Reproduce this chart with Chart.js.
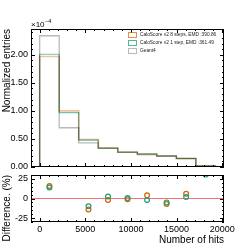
<!DOCTYPE html>
<html>
<head>
<meta charset="utf-8">
<script src="https://cdn.jsdelivr.net/npm/chart.js@4/dist/chart.umd.min.js"></script>
<style>
  html, body { margin: 0; padding: 0; background: #fff; }
  #wrap { position: relative; width: 249px; height: 249px; }
  canvas { position: absolute; left: 0; top: 0; }
</style>
</head>
<body>
<div id="wrap">
  <canvas id="grafico__diff" width="249" height="249"></canvas>
  <canvas id="grafico__hist" width="249" height="249"></canvas>
</div>
<script>
// bordes de los bins (numero de hits)
const binEdges = [0, 2140, 4280, 6420, 8560, 10700, 12840, 14980, 17120, 19260];

// entradas normalizadas (x 1e-4)
const geant4 = [2.34, 0.70, 0.43, 0.34, 0.265, 0.23, 0.19, 0.155, 0.025];
const calo8 = [1.97, 1.00, 0.49, 0.34, 0.265, 0.22, 0.20, 0.145, 0.012];
const calo1 = [2.01, 0.97, 0.48, 0.33, 0.263, 0.235, 0.20, 0.152, 0.0175];

// diferencia (%) por bin
const diff8 = [16, -43, -14, -2, -1, 4, -7, 6, 52];
const diff1 = [14, -39, -10, 2.5, 0.5, -2, -5, 2, 30.5];

// ticks de los ejes
const xTicks = [0, 5000, 10000, 15000, 20000];
const yTicksHist = [0, 0.5, 1.0, 1.5, 2.0];
const yTicksDiff = [-25, 0, 25];

const labels = [
  'CaloScore v2 8 steps, EMD :390.86',
  'CaloScore v2 1 step, EMD :361.49',
  'Geant4'
];

const X_MIN = -950, X_MAX = 20200;
const FONT = '"Liberation Sans", Arial, sans-serif';

const ORANGE = '#d95f02';
const GREEN = '#1b9e77';
const lineOrange = 'rgba(217,95,2,0.38)';
const lineGreen = 'rgba(27,158,119,0.62)';
const lineGrey = 'rgba(128,128,128,0.55)';

// arma los puntos del histograma tipo "step"
function stepPoints(vals){
  let pts = [{x: binEdges[0], y: 0}];
  for (let i = 0; i < vals.length; i++) {
    pts.push({x: binEdges[i], y: vals[i]});
  }
  pts.push({x: binEdges[binEdges.length - 1], y: 0});
  return pts;
}

function binCenters(vals){
  return vals.map((v, i) => ({x: (binEdges[i] + binEdges[i + 1]) / 2, y: v}));
}

// marco y ticks hacia adentro en los cuatro lados
const frameTicks = {
  id: 'frameTicks',
  afterDraw(chart, args, o) {
    const {ctx, chartArea: a, scales: {x, y}} = chart;
    ctx.save();
    ctx.strokeStyle = '#000';
    ctx.lineWidth = 1;
    ctx.beginPath();
    const tick = (px, horiz, len) => {
      if (horiz) {
        ctx.moveTo(px, a.bottom); ctx.lineTo(px, a.bottom - len);
        ctx.moveTo(px, a.top); ctx.lineTo(px, a.top + len);
      } else {
        ctx.moveTo(a.left, px); ctx.lineTo(a.left + len, px);
        ctx.moveTo(a.right, px); ctx.lineTo(a.right - len, px);
      }
    };
    for (let k = Math.ceil(x.min / o.xMinor); k * o.xMinor <= x.max; k++) {
      const v = k * o.xMinor;
      const major = Math.abs(v / o.xMajor - Math.round(v / o.xMajor)) < 1e-6;
      tick(Math.round(x.getPixelForValue(v)) + 0.5, true, major ? 4 : 2);
    }
    for (let k = Math.ceil(y.min / o.yMinor - 1e-6); k * o.yMinor <= y.max + 1e-9; k++) {
      const v = k * o.yMinor;
      const major = Math.abs(v / o.yMajor - Math.round(v / o.yMajor)) < 1e-6;
      tick(Math.round(y.getPixelForValue(v)) + 0.5, false, major ? 4 : 2);
    }
    ctx.stroke();
    ctx.strokeRect(Math.round(a.left) + 0.5, Math.round(a.top) + 0.5,
      Math.round(a.right - a.left) - 1, Math.round(a.bottom - a.top) - 1);
    ctx.restore();
  }
};

// mezcla de las lineas del histograma
const blend = {
  id: 'blend',
  beforeDatasetsDraw(chart) {
    chart.ctx.save();
    chart.ctx.globalCompositeOperation = 'multiply';
  },
  afterDatasetsDraw(chart) {
    chart.ctx.restore();
  }
};

// leyenda y multiplicador del eje
const extras = {
  id: 'extras',
  afterDraw(chart) {
    const ctx = chart.ctx;
    ctx.save();
    ctx.fillStyle = '#000';
    ctx.textBaseline = 'alphabetic';
    ctx.font = '8px ' + FONT;
    ctx.fillText('\u00d710', 31, 27);
    const w = ctx.measureText('\u00d710').width;
    ctx.font = '5.5px ' + FONT;
    ctx.fillText('\u22124', 31 + w + 0.5, 23);

    const strokeCols = ['rgba(217,95,2,0.7)', 'rgba(27,158,119,0.75)', 'rgba(128,128,128,0.55)'];
    ctx.font = '4.8px ' + FONT;
    ctx.textBaseline = 'middle';
    labels.forEach((t, i) => {
      const cy = 35 + i * 8;
      ctx.strokeStyle = strokeCols[i];
      ctx.lineWidth = 1;
      ctx.strokeRect(128.5, cy - 2.5, 8, 5);
      ctx.fillStyle = '#222';
      ctx.fillText(t, 140, cy);
    });
    ctx.restore();
  }
};

function setTicks(vals){
  return s => { s.ticks = vals.map(v => ({value: v})); };
}

function yAxis(min, max, vals, fmt, title){
  return {
    type: 'linear', min: min, max: max,
    afterBuildTicks: setTicks(vals),
    afterFit: s => { s.width = 31; },
    grid: {display: false, drawTicks: false},
    border: {display: false},
    ticks: {color: '#000', padding: 3, autoSkip: false,
      font: {family: FONT, size: 9}, callback: fmt},
    title: {display: true, text: title, align: 'end', color: '#000',
      font: {family: FONT, size: 10}, padding: {top: 1.5, bottom: 0}}
  };
}

Chart.defaults.animation = false;

const histChart = new Chart(document.querySelector('#grafico__hist'), {
  type: 'line',
  data: {
    datasets: [
      {label: labels[1], data: stepPoints(calo1), stepped: true, borderColor: lineGreen, borderWidth: 1.2, pointRadius: 0, fill: false},
      {label: labels[0], data: stepPoints(calo8), stepped: true, borderColor: lineOrange, borderWidth: 1.7, pointRadius: 0, fill: false},
      {label: labels[2], data: stepPoints(geant4), stepped: true, borderColor: lineGrey, borderWidth: 1.3, pointRadius: 0, fill: false}
    ]
  },
  options: {
    responsive: false,
    layout: {padding: {top: 29, right: 25, bottom: 82, left: 0}},
    plugins: {legend: {display: false}, tooltip: {enabled: false},
      frameTicks: {xMajor: 5000, xMinor: 1000, yMajor: 0.5, yMinor: 0.1}},
    scales: {
      x: {type: 'linear', min: X_MIN, max: X_MAX,
        afterFit: s => { s.height = 0; },
        grid: {display: false, drawTicks: false}, border: {display: false},
        ticks: {display: false}},
      y: yAxis(0, 2.46, yTicksHist, v => v.toFixed(2), 'Normalized entries')
    }
  },
  plugins: [blend, frameTicks, extras]
});

const diffChart = new Chart(document.querySelector('#grafico__diff'), {
  type: 'line',
  data: {
    datasets: [
      {data: binCenters(diff1), showLine: false, pointStyle: 'circle', pointRadius: 2.4,
        pointBorderWidth: 1.2, pointBorderColor: GREEN, pointBackgroundColor: 'rgba(0,0,0,0)'},
      {data: binCenters(diff8), showLine: false, pointStyle: 'circle', pointRadius: 2.4,
        pointBorderWidth: 1.2, pointBorderColor: ORANGE, pointBackgroundColor: 'rgba(0,0,0,0)'},
      {data: [{x: X_MIN, y: 0}, {x: X_MAX, y: 0}], borderColor: 'rgba(245,80,80,0.8)',
        borderWidth: 1, pointRadius: 0}
    ]
  },
  options: {
    responsive: false,
    layout: {padding: {top: 175, right: 25, bottom: 0, left: 0}},
    plugins: {legend: {display: false}, tooltip: {enabled: false},
      frameTicks: {xMajor: 5000, xMinor: 1000, yMajor: 25, yMinor: 5}},
    scales: {
      x: {type: 'linear', min: X_MIN, max: X_MAX,
        afterBuildTicks: setTicks(xTicks),
        afterFit: s => { s.height = 27; },
        grid: {display: false, drawTicks: false}, border: {display: false},
        ticks: {color: '#000', padding: 2, maxRotation: 0, autoSkip: false,
          font: {family: FONT, size: 9}, callback: v => String(v)},
        title: {display: true, text: 'Number of hits', align: 'end', color: '#000',
          font: {family: FONT, size: 10}, padding: {top: 0, bottom: 3}}},
      y: yAxis(-30, 30, yTicksDiff, v => String(v), 'Difference. (%)')
    }
  },
  plugins: [frameTicks]
});
</script>
</body>
</html>
